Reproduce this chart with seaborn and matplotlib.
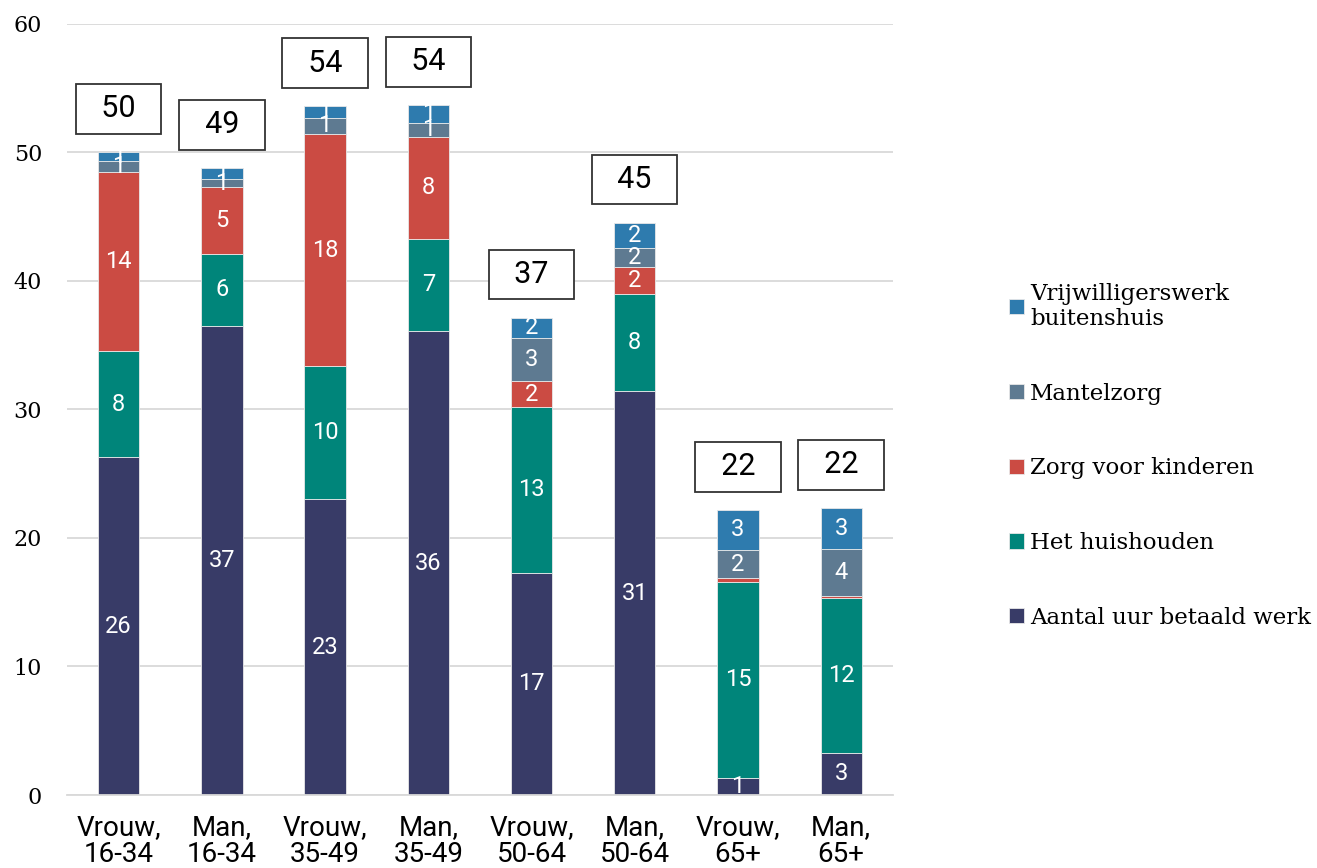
import matplotlib
matplotlib.use("Agg")
import matplotlib.pyplot as plt
import seaborn as sns
import numpy as np
import pandas as pd

categories = ["Vrouw,\n16-34", "Man,\n16-34", "Vrouw,\n35-49", "Man,\n35-49",
              "Vrouw,\n50-64", "Man,\n50-64", "Vrouw,\n65+", "Man,\n65+"]
betaald_werk = [26.3, 36.5, 23.0, 36.1, 17.3, 31.4, 1.3, 3.3]
huishouden = [8.25, 5.6, 10.35, 7.2, 12.9, 7.55, 15.3, 12.0]
kinderen = [13.9, 5.2, 18.1, 7.9, 2.0, 2.1, 0.25, 0.15]
mantelzorg = [0.9, 0.6, 1.25, 1.1, 3.35, 1.55, 2.25, 3.7]
vrijwilligerswerk = [0.7, 0.9, 0.9, 1.4, 1.6, 1.95, 3.1, 3.2]

series_names = ["Aantal uur betaald werk", "Het huishouden", "Zorg voor kinderen",
                "Mantelzorg", "Vrijwilligerswerk\nbuitenshuis"]
series_values = [betaald_werk, huishouden, kinderen, mantelzorg, vrijwilligerswerk]
colors = ["#383B67", "#00857A", "#CB4B43", "#5E7A91", "#2E7BAE"]

sns.set_theme(style="white")
plt.rcParams["font.family"] = ["DejaVu Serif"]
SANS = ["Roboto", "DejaVu Sans"]

fig = plt.figure(figsize=(13.17, 8.68), dpi=100)
ax = fig.add_axes([0.0509, 0.0841, 0.627, 0.8883])

def rnd(v):
    return int(np.floor(v + 0.5))

bottom = np.zeros(len(categories))
for name, vals, col in zip(series_names, series_values, colors):
    vals = np.array(vals)
    df = pd.DataFrame({"cat": categories, "val": vals})
    sns.barplot(data=df, x="cat", y="val", bottom=bottom, color=col, width=0.4,
                ax=ax, label=name, edgecolor="#E8E8E8", linewidth=0.6, saturation=1)
    for i, v in enumerate(vals):
        r = rnd(v)
        if r >= 1:
            ax.text(i, bottom[i] + v / 2, str(r), ha="center", va="center",
                    color="white", fontsize=17, family=SANS)
    bottom = bottom + vals

for i, tot in enumerate(bottom):
    ax.annotate("  " + str(rnd(tot)) + "  ", xy=(i, tot), xytext=(0, 31),
                textcoords="offset points", ha="center", va="center", fontsize=22,
                family=SANS, color="black",
                bbox=dict(boxstyle="square,pad=0.34", fc="white", ec="#333333", lw=1.3))

ax.set_ylim(0, 60)
ax.set_xlim(-0.5, len(categories) - 0.5)
ax.set_yticks(range(0, 61, 10))
ax.yaxis.grid(True, color="#D9D9D9", linewidth=1.3)
ax.set_axisbelow(True)
for s in ["top", "right", "left"]:
    ax.spines[s].set_visible(False)
ax.spines["bottom"].set_color("#D9D9D9")
ax.spines["bottom"].set_linewidth(1.3)
ax.set_xlabel("")
ax.set_ylabel("")
ax.tick_params(axis="y", length=0, pad=18, labelsize=16, labelcolor="black")
ax.tick_params(axis="x", length=0, pad=14, labelcolor="black")
for lab in ax.get_xticklabels():
    lab.set_fontfamily(SANS)
    lab.set_fontsize(20)
    lab.set_linespacing(1.0)

handles, labels = ax.get_legend_handles_labels()
leg = ax.legend(handles[::-1], labels[::-1], loc="center left",
                bbox_to_anchor=(1.13, 0.44), frameon=False, fontsize=16.5,
                handlelength=0.65, handleheight=0.65, handletextpad=0.25,
                labelspacing=2.3, borderaxespad=0)
for t in leg.get_texts():
    t.set_color("black")

fig.savefig("out.png", dpi=100)
